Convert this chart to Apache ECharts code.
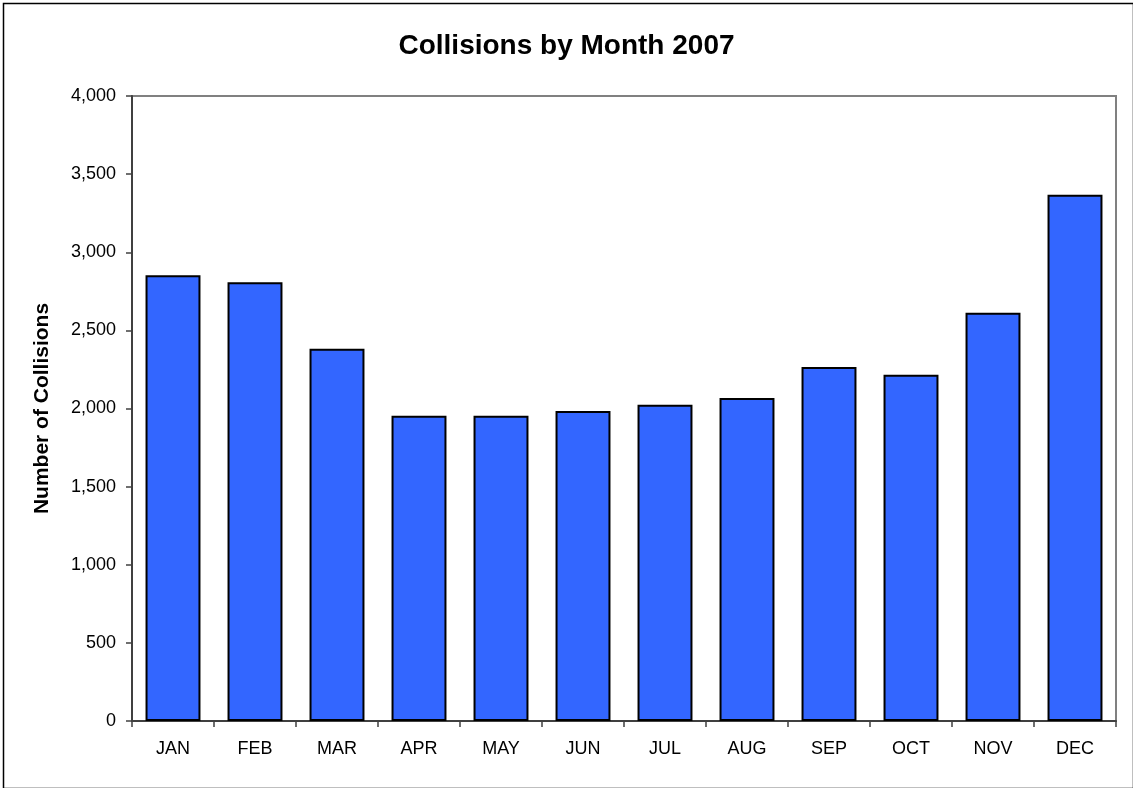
<!DOCTYPE html>
<html>
<head>
<meta charset="utf-8">
<script src="https://cdn.jsdelivr.net/npm/echarts@6/dist/echarts.min.js"></script>
<style>
html,body{margin:0;padding:0;background:#fff;}
#c{width:1133px;height:788px;}
</style>
</head>
<body>
<div id="c"></div>
<script>
const months = ['JAN','FEB','MAR','APR','MAY','JUN','JUL','AUG','SEP','OCT','NOV','DEC'];
const collisions = [2853, 2808, 2383, 1954, 1954, 1984, 2024, 2067, 2266, 2216, 2613, 3368];
const titleText = 'Collisions by Month 2007';
const yAxisName = 'Number of Collisions';

const FONT = 'Liberation Sans, Arial, sans-serif';
const chart = echarts.init(document.getElementById('c'), null, {renderer:'canvas'});
chart.setOption({
  animation: false,
  backgroundColor: '#fff',
  title: {
    text: titleText,
    left: 'center',
    top: 27,
    textStyle: {fontFamily: FONT, fontSize: 28, fontWeight: 'bold', color: '#000'}
  },
  graphic: [{
    type: 'rect',
    left: 1, top: 1,
    shape: {width: 1130, height: 785},
    style: {fill: 'none', stroke: '#000', lineWidth: 1.5},
    silent: true
  }],
  grid: {left: 132, right: 17, top: 96, bottom: 67, show: true, borderColor: '#808080', borderWidth: 2, backgroundColor: 'transparent'},
  xAxis: {
    type: 'category',
    data: months,
    axisLine: {lineStyle: {color: '#404040', width: 2}},
    axisTick: {show: true, length: 6, alignWithLabel: false, lineStyle: {color: '#404040', width: 1.5}},
    axisLabel: {fontFamily: FONT, fontSize: 18, color: '#000', margin: 19}
  },
  yAxis: {
    type: 'value',
    min: 0, max: 4000, interval: 500,
    name: yAxisName,
    nameLocation: 'middle',
    nameGap: 79,
    nameTextStyle: {fontFamily: FONT, fontSize: 21, fontWeight: 'bold', color: '#000'},
    axisLine: {show: true, lineStyle: {color: '#404040', width: 2}},
    axisTick: {show: true, length: 6, lineStyle: {color: '#404040', width: 1.5}},
    splitLine: {show: false},
    axisLabel: {fontFamily: FONT, fontSize: 18, color: '#000', margin: 16,
      formatter: v => v.toLocaleString('en-US')}
  },
  series: [{
    type: 'bar',
    data: collisions,
    barCategoryGap: '33%',
    itemStyle: {color: '#3366FF', borderColor: '#000', borderWidth: 2}
  }]
});
</script>
</body>
</html>
